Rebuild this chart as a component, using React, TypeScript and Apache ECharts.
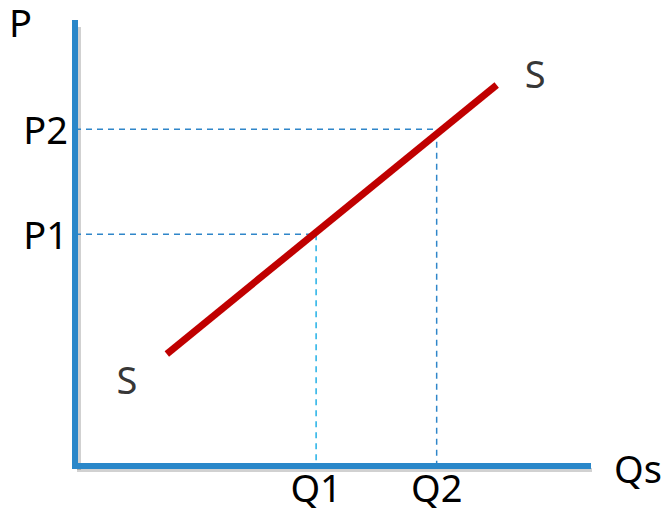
import React, { useEffect, useRef } from "react";
import * as echarts from "echarts";

const supplyLine: number[][] = [
  [1.79, 2.53],
  [8.22, 8.6],
];
const qValues = [4.7, 7.05];
const qLabels = ["Q1", "Q2"];
const pValues = [5.23, 7.6];
const pLabels = ["P1", "P2"];
const supplyName = "S";
const xName = "Qs";
const yName = "P";

const AXIS_BLUE = "#2A87C9";
const DASH_BLUE = "#2F86C9";
const DASH_CYAN = "#22B0E6";
const FONT = "Noto Sans";
const FS = 38;

export default function App() {
  const ref = useRef<HTMLDivElement>(null);
  useEffect(() => {
    if (!ref.current) return;
    const chart = echarts.init(ref.current, undefined, { renderer: "svg" });
    const axisLine = {
      show: true,
      lineStyle: { color: AXIS_BLUE, width: 6, cap: "square" },
    };
    const dashSeries = (data: number[][], color: string) => ({
      type: "line",
      data,
      symbol: "none",
      silent: true,
      lineStyle: { color, width: 1.5, type: [6, 5] },
      z: 1,
    });
    const shadow = { stroke: "rgba(0,0,0,0.18)", lineWidth: 4 };
    const sLabel = {
      show: true,
      formatter: supplyName,
      color: "#000",
      fontFamily: FONT,
      fontSize: FS,
      lineHeight: FS,
    };
    chart.setOption({
      animation: false,
      grid: { left: 75, right: 78, top: 23, bottom: 46 },
      xAxis: {
        type: "value",
        min: 0,
        max: 10,
        splitLine: { show: false },
        axisTick: { show: false },
        axisLine,
        z: 5,
        axisLabel: {
          show: true,
          customValues: qValues,
          formatter: (v: number) => qLabels[qValues.indexOf(v)] ?? "",
          color: "#000",
          fontFamily: FONT,
          fontSize: FS,
          lineHeight: FS,
          margin: 2,
        },
      },
      yAxis: {
        type: "value",
        min: 0,
        max: 10,
        splitLine: { show: false },
        axisTick: { show: false },
        axisLine,
        z: 5,
        axisLabel: {
          show: true,
          customValues: pValues,
          formatter: (v: number) => pLabels[pValues.indexOf(v)] ?? "",
          color: "#000",
          fontFamily: FONT,
          fontSize: FS,
          lineHeight: FS,
          margin: 7,
        },
      },
      graphic: [
        {
          type: "line",
          z: -1,
          shape: { x1: 79, y1: 27, x2: 79, y2: 470 },
          style: shadow,
        },
        {
          type: "line",
          z: -1,
          shape: { x1: 77, y1: 470, x2: 592, y2: 470 },
          style: shadow,
        },
        {
          type: "text",
          left: 9,
          top: 3,
          style: { text: yName, fontFamily: FONT, fontSize: FS, lineHeight: FS, fill: "#000" },
        },
        {
          type: "text",
          left: 614,
          top: 449,
          style: { text: xName, fontFamily: FONT, fontSize: FS, lineHeight: FS, fill: "#000" },
        },
      ],
      series: [
        dashSeries([[0, pValues[0]], [qValues[0], pValues[0]]], DASH_BLUE),
        dashSeries([[qValues[0], pValues[0]], [qValues[0], 0]], DASH_CYAN),
        dashSeries([[0, pValues[1]], [qValues[1], pValues[1]], [qValues[1], 0]], DASH_BLUE),
        {
          type: "line",
          symbol: "none",
          silent: true,
          z: 3,
          lineStyle: { color: "#C00000", width: 7 },
          data: supplyLine,
        },
        {
          type: "scatter",
          silent: true,
          symbolSize: 2,
          z: 4,
          itemStyle: { color: "rgba(0,0,0,0)" },
          data: [
            {
              value: supplyLine[0],
              label: { ...sLabel, position: "bottom", offset: [-40, 0] },
            },
            {
              value: supplyLine[1],
              label: { ...sLabel, position: "right", offset: [22, -12] },
            },
          ],
        },
      ],
    });
    return () => chart.dispose();
  }, []);
  return (
    <div
      ref={ref}
      style={{ position: "fixed", left: 0, top: 0, width: 666, height: 512, background: "#fff" }}
    />
  );
}
